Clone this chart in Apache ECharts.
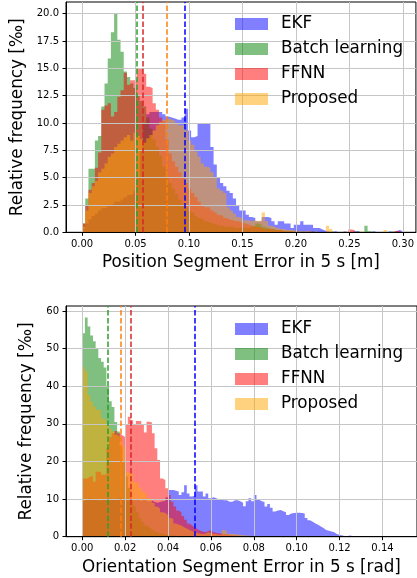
<!DOCTYPE html>
<html><head><meta charset="utf-8">
<script src="https://cdn.jsdelivr.net/npm/echarts@6/dist/echarts.min.js"></script>
<style>html,body{margin:0;padding:0;background:#fff}#c{width:417px;height:578px}</style>
</head><body><div id="c"></div><script>
// ---------- data ----------
const seriesNames = ['EKF', 'Batch learning', 'FFNN', 'Proposed'];

// Position segment error histograms (bin width 0.003 m, starting at 0)
const posBinWidth = 0.003;
const posEKF = [0.3,0.8,1.2,1.5,1.7,2.0,2.2,2.3,2.5,2.6,
 2.8,2.8,3.0,3.2,3.4,3.5,3.8,5.0,7.5,10.0,
 10.8,11.0,11.0,11.0,11.0,10.8,10.6,10.5,10.4,10.3,
 10.3,10.5,11.3,9.3,8.7,8.8,9.9,9.9,10.0,10.0,
 7.8,6.2,5.0,4.5,4.2,3.8,3.6,3.1,2.5,2.0,
 2.0,1.6,1.4,1.3,1.0,1.0,1.4,1.4,1.3,1.0,
 0.7,1.0,1.0,0.8,0.8,0.4,0.7,0.7,1.0,0.7,
 0.7,0.7,0.4,0.4,0.25,0.15,0.1,0,0.1,0,
 0,0.1,0,0,0.1,0.1,0,0,0,0,
 0.1,0,0,0,0,0.1,0,0.1,0.2,0.1];
const posBatch = [0.8,3.1,5.8,5.8,8.4,8.8,11.5,13.6,15.9,18.3,
 20.0,17.6,16.5,14.7,14.2,13.6,13.2,12.5,12.0,11.5,
 10.5,9.5,8.5,7.8,7.0,6.0,5.0,4.5,4.0,3.5,
 3.0,2.6,2.3,2.0,1.8,1.5,1.3,1.2,1.0,0.9,
 0.8,0.7,0.6,0.6,0.5,0.5,0.5,0.4,0.4,0.5,
 0.4,0.4,0.5,0.6,0.8,0.7,0.5,0.4,0.3,0.3,
 0.2,0.2,0.1,0.1,0.1,0.1,0.1,0,0.1,0,
 0,0.1,0,0,0,0,0,0.1,0,0,
 0,0,0,0,0,0.1,0,0,0.6,0.1,
 0,0,0,0,0,0,0.1,0,0,0];
const posFFNN = [0.8,2.4,3.9,4.5,5.9,7.3,11.2,11.6,11.8,10.6,
 11.0,12.4,13.0,14.6,13.5,13.9,13.9,15.0,15.0,14.5,
 13.3,13.2,11.8,11.2,10.5,10.2,8.5,7.2,6.5,6.0,
 5.5,5.0,4.5,4.0,3.6,3.2,2.8,2.5,2.3,2.3,
 2.0,1.8,1.6,1.5,1.3,1.2,1.1,1.0,1.0,0.9,
 0.8,0.7,0.6,0.5,0.5,0.4,0.3,0.3,0.3,0.2,
 0.2,0.2,0.1,0.1,0.1,0,0.1,0,0,0,
 0.1,0,0,0,0,0,0,0,0,0,
 0,0,0,0.25,0.2,0,0,0,0,0,
 0,0,0,0,0,0,0,0.15,0.1,0];
const posProposed = [0.5,2.0,3.6,4.2,4.7,5.5,5.8,6.3,6.9,7.2,
 7.8,8.1,8.4,8.7,8.9,8.4,9.1,8.8,8.5,8.2,
 8.6,8.9,9.3,9.8,10.1,10.3,10.4,10.3,10.2,10.0,
 9.8,9.8,9.3,8.4,8.0,7.4,6.9,6.3,6.0,5.9,
 5.5,5.0,4.0,3.8,3.6,2.3,2.0,1.7,1.4,1.3,
 1.1,1.1,1.0,1.1,1.0,1.1,1.8,1.0,0.6,0.5,
 0.4,0.3,0.3,0.2,0.2,0.2,0.1,0.1,0.1,0.1,
 0.1,0,0.1,0,0,0,0.6,0.3,0,0,
 0,0.1,0,0,0,0,0.1,0,0,0,
 0,0,0,0,0.2,0,0,0,0,0];
const posMeans = [0.0961, 0.0513, 0.0572, 0.0788];

// Orientation segment error histograms (bin width 0.00125 rad, starting at 0)
const oriBinWidth = 0.00125;
const oriEKF = [9.5,10.0,10.2,10.0,9.8,10.2,9.6,10.0,9.8,10.2,
 10.0,9.8,10.0,10.2,9.7,10.0,9.8,10.1,9.6,9.8,
 10.0,9.5,9.8,9.6,9.4,9.6,9.3,9.0,9.2,9.4,
 9.5,10.5,12.4,12.4,12.2,12.0,11.1,11.8,13.7,11.5,
 10.7,10.9,13.7,12.0,12.0,10.7,11.5,10.2,10.5,10.2,
 9.9,9.8,9.7,9.7,9.3,9.3,9.7,9.7,9.4,9.0,
 8.1,9.4,10.2,9.4,11.1,9.8,9.4,9.2,8.0,8.7,
 7.7,6.7,7.0,7.1,6.8,6.5,5.8,6.2,6.3,6.4,
 6.4,6.3,6.2,5.0,4.4,4.0,3.5,3.2,2.7,2.3,
 1.8,1.6,1.4,1.2,0.7,0.5,0.3,0.2,0.2,0.3,
 0.1];
const oriBatch = [54.1,58.3,55.9,53.5,52.0,50.0,47.5,46.5,45.0,40.0,
 36.0,34.5,30.5,28.0,24.0,20.0,16.0,13.0,10.0,8.0,
 6.5,5.0,4.0,3.0,2.5,2.0,1.5,1.2,1.0,0.8,
 0.6,0.5,0.4,0.3,0.3,0.2,0.2,0.1,0.1,0.1];
const oriFFNN = [15.5,15.5,16.0,16.0,14.6,17.3,17.3,16.5,16.5,23.5,
 26.5,27.5,28.1,27.5,27.0,26.5,30.0,31.9,31.0,29.7,
 30.8,30.8,30.0,27.7,30.6,30.4,27.5,23.5,20.4,15.5,
 15.1,12.9,11.1,9.3,8.0,7.0,6.5,5.5,4.5,3.5,
 3.0,2.5,2.0,1.6,1.4,1.2,1.5,1.7,1.2,1.0,
 0.9,0.8,0.7,0.6,0.5,0.4,0.3,0.3,0.2,0.2,
 0.1];
const oriProposed = [45.2,43.9,37.7,35.9,34.6,33.7,33.9,31.5,31.0,30.1,
 28.8,28.0,27.1,26.6,25.3,24.0,17.3,17.0,16.5,14.5,
 14.3,13.0,12.0,11.5,10.3,10.0,9.0,8.0,7.5,6.5,
 6.3,5.8,5.0,4.8,3.5,3.2,3.0,2.5,2.2,1.8,
 1.5,1.2,1.0,0.8,0.7,0.8,1.2,1.0,0.8,0.7,
 0.6,0.5,1.8,1.6,0.8,0.7,0.7,0.6,0.5,0.4,
 0.3,0.3,0.2,0.1];
const oriMeans = [0.0524, 0.0118, 0.0227, 0.0178];

// tick values
const posTicksX = [0, 0.05, 0.10, 0.15, 0.20, 0.25, 0.30];
const posTicksY = [0, 2.5, 5, 7.5, 10, 12.5, 15, 17.5, 20];
const oriTicksX = [0, 0.02, 0.04, 0.06, 0.08, 0.10, 0.12, 0.14];
const oriTicksY = [0, 10, 20, 30, 40, 50, 60];

// ---------- styles ----------
const fillColors = ['rgba(0,0,255,0.5)', 'rgba(0,128,0,0.5)', 'rgba(255,0,0,0.5)', 'rgba(255,165,0,0.5)'];
const meanColors = ['#0000ff', '#2ca02c', '#d62728', '#ff7f0e'];
const FONT = 'DejaVu Sans';

function hist(name, heights, binWidth, axis, color) {
  const data = heights.map((h, i) => [i * binWidth, h]);
  data.push([heights.length * binWidth, heights[heights.length - 1]]);
  return {
    type: 'line', name, xAxisIndex: axis, yAxisIndex: axis, data,
    step: 'end', symbol: 'none', showSymbol: false, silent: true, z: 2,
    lineStyle: { width: 0, opacity: 0 }, itemStyle: { color },
    areaStyle: { color, opacity: 1 }, emphasis: { disabled: true }, animation: false
  };
}
function means(vals, axis) {
  return {
    type: 'line', name: 'means' + axis, xAxisIndex: axis, yAxisIndex: axis, data: [], z: 5, silent: true,
    markLine: {
      silent: true, symbol: ['none', 'none'], label: { show: false }, animation: false, precision: 6,
      data: vals.map((m, k) => ({ xAxis: m, lineStyle: { color: meanColors[k], type: [5.5, 2.4], width: 1.5 } }))
    }
  };
}
function xAx(grid, min, max, ticks, name, splitNumber) {
  return {
    gridIndex: grid, type: 'value', min, max, splitNumber, z: 3,
    axisLine: { show: true, onZero: false, lineStyle: { color: '#000', width: 1 } },
    axisTick: { show: true, length: 3.5, customValues: ticks, lineStyle: { color: '#000', width: 1 } },
    axisLabel: { customValues: ticks, formatter: v => v.toFixed(2), fontSize: 10, color: '#000', margin: 7, fontFamily: FONT },
    splitLine: { show: true, lineStyle: { color: '#c6c6c6', width: 1 } },
    name, nameLocation: 'middle', nameGap: 22,
    nameTextStyle: { fontSize: 16.8, color: '#000', fontFamily: FONT }
  };
}
function yAx(grid, max, interval, ticks, fmt) {
  return {
    gridIndex: grid, type: 'value', min: 0, max, interval, z: 3,
    axisLine: { show: true, onZero: false, lineStyle: { color: '#000', width: 1 } },
    axisTick: { show: true, length: 3.5, customValues: ticks, lineStyle: { color: '#000', width: 1 } },
    axisLabel: { customValues: ticks, formatter: fmt, fontSize: 10, color: '#000', margin: 7, fontFamily: FONT },
    splitLine: { show: true, lineStyle: { color: '#c6c6c6', width: 1 } },
    name: 'Relative frequency [‰]', nameLocation: 'middle', nameGap: 28.5,
    nameTextStyle: { fontSize: 16.8, color: '#000', fontFamily: FONT }
  };
}
function legend(top) {
  return {
    orient: 'vertical', left: 235, top, padding: 0, itemWidth: 33, itemHeight: 12, itemGap: 8,
    icon: 'rect', selectedMode: false,
    textStyle: { fontSize: 16.8, lineHeight: 17, color: '#000', fontFamily: FONT, padding: [0, 0, 0, 8] },
    data: seriesNames.map((n, k) => ({ name: n, icon: 'rect', itemStyle: { color: fillColors[k] } }))
  };
}

const chart = echarts.init(document.getElementById('c'), null, { renderer: 'canvas', width: 417, height: 578 });
chart.setOption({
  animation: false,
  backgroundColor: '#fff',
  textStyle: { fontFamily: FONT },
  grid: [
    { left: 66, top: 2, width: 352, height: 230.3, show: true, borderColor: '#000', borderWidth: 1, backgroundColor: 'transparent' },
    { left: 66, top: 306, width: 352, height: 230.7, show: true, borderColor: '#000', borderWidth: 1, backgroundColor: 'transparent' }
  ],
  xAxis: [
    xAx(0, -0.015, 0.3122, posTicksX, 'Position Segment Error in 5 s [m]', 6),
    xAx(1, -0.00758, 0.1561, oriTicksX, 'Orientation Segment Error in 5 s [rad]', 8)
  ],
  yAxis: [
    yAx(0, 21.06, 2.5, posTicksY, v => v.toFixed(1)),
    yAx(1, 61.35, 10, oriTicksY, v => String(Math.round(v)))
  ],
  legend: [legend(15.5), legend(320.5)],
  series: [
    hist(seriesNames[0], posEKF, posBinWidth, 0, fillColors[0]),
    hist(seriesNames[1], posBatch, posBinWidth, 0, fillColors[1]),
    hist(seriesNames[2], posFFNN, posBinWidth, 0, fillColors[2]),
    hist(seriesNames[3], posProposed, posBinWidth, 0, fillColors[3]),
    means(posMeans, 0),
    hist(seriesNames[0], oriEKF, oriBinWidth, 1, fillColors[0]),
    hist(seriesNames[1], oriBatch, oriBinWidth, 1, fillColors[1]),
    hist(seriesNames[2], oriFFNN, oriBinWidth, 1, fillColors[2]),
    hist(seriesNames[3], oriProposed, oriBinWidth, 1, fillColors[3]),
    means(oriMeans, 1)
  ]
});
</script></body></html>
